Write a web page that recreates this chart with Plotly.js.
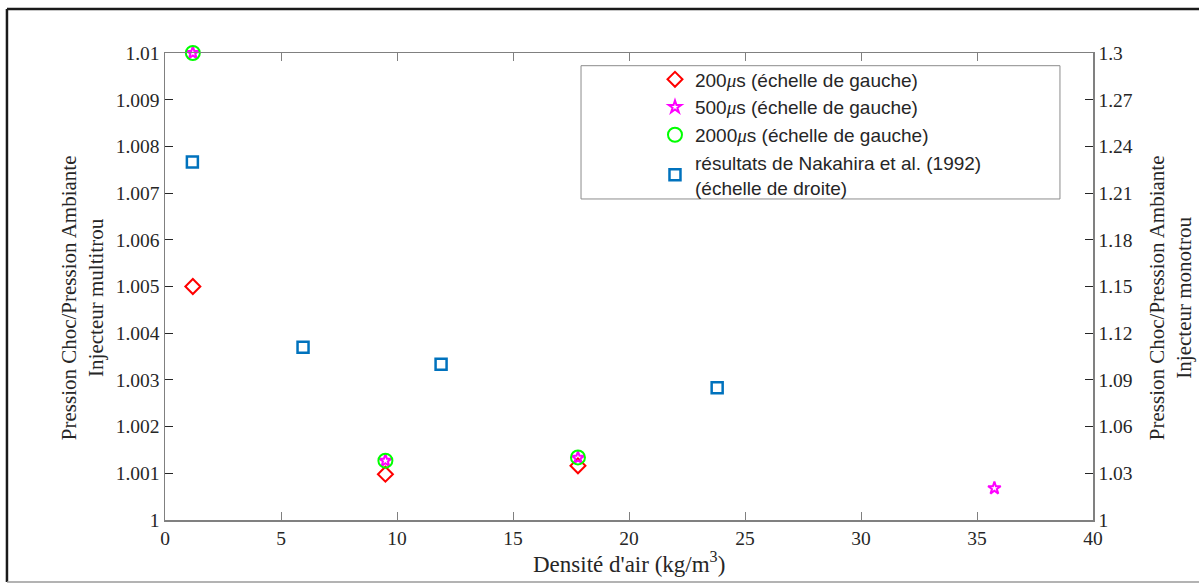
<!DOCTYPE html>
<html>
<head>
<meta charset="utf-8">
<script src="https://cdn.plot.ly/plotly-3.0.1.min.js"></script>
<style>
  html, body { margin: 0; padding: 0; background: #ffffff; }
  #chart { width: 1199px; height: 583px; }
</style>
</head>
<body>
<div id="chart"></div>
<script>
// Air density (kg/m^3) for each measurement series
const densite200 = [1.2, 9.5, 17.8];
const pression200 = [1.005, 1.00098, 1.00116];

const densite500 = [1.2, 9.5, 17.8, 35.75];
const pression500 = [1.01, 1.00127, 1.00133, 1.00068];

const densite2000 = [1.2, 9.5, 17.8];
const pression2000 = [1.01, 1.00127, 1.00134];

// Single-hole injector reference results (right-hand scale)
const densiteNakahira = [1.18, 5.95, 11.9, 23.8];
const pressionNakahira = [1.23, 1.111, 1.10, 1.085];

// Axis ticks
const xTicks = [0, 5, 10, 15, 20, 25, 30, 35, 40];
const yLeftTicks = [1, 1.001, 1.002, 1.003, 1.004, 1.005, 1.006, 1.007, 1.008, 1.009, 1.01];
const yLeftLabels = ['1', '1.001', '1.002', '1.003', '1.004', '1.005', '1.006', '1.007', '1.008', '1.009', '1.01'];
const yRightTicks = [1, 1.03, 1.06, 1.09, 1.12, 1.15, 1.18, 1.21, 1.24, 1.27, 1.3];
const yRightLabels = ['1', '1.03', '1.06', '1.09', '1.12', '1.15', '1.18', '1.21', '1.24', '1.27', '1.3'];

const mu = '<span style="font-family:\'Liberation Serif\'"><i>μ</i></span>';

const traces = [
  {
    x: densite200, y: pression200, type: 'scatter', mode: 'markers',
    name: '200' + mu + 's (échelle de gauche)', legendgroup: 'a',
    marker: { symbol: 'diamond-open', size: 11.5, color: '#ff0000', line: { width: 2, color: '#ff0000' } },
    cliponaxis: false
  },
  {
    x: densite500, y: pression500, type: 'scatter', mode: 'markers',
    name: '500' + mu + 's (échelle de gauche)', legendgroup: 'b',
    marker: { symbol: 'star-open', size: 9.5, color: '#ff00ff', line: { width: 2, color: '#ff00ff' } },
    cliponaxis: false
  },
  {
    x: densite2000, y: pression2000, type: 'scatter', mode: 'markers',
    name: '2000' + mu + 's (échelle de gauche)', legendgroup: 'c',
    marker: { symbol: 'circle-open', size: 14, color: '#00ff00', line: { width: 2, color: '#00ff00' } },
    cliponaxis: false
  },
  {
    x: densiteNakahira, y: pressionNakahira, type: 'scatter', mode: 'markers', yaxis: 'y2',
    name: 'résultats de Nakahira et al. (1992)<br>(échelle de droite)', legendgroup: 'd',
    marker: { symbol: 'square-open', size: 11, color: '#0072bd', line: { width: 2.5, color: '#0072bd' } },
    cliponaxis: false
  }
];

const axisColor = '#808080';
const textColor = '#262626';
const serif = 'Liberation Serif, Times New Roman, serif';

const layout = {
  width: 1199,
  height: 583,
  margin: { l: 165, r: 106, t: 53, b: 63 },
  paper_bgcolor: '#ffffff',
  plot_bgcolor: '#ffffff',
  showlegend: true,
  font: { family: serif, color: textColor, size: 19 },
  xaxis: {
    range: [0, 40],
    tickvals: xTicks,
    ticktext: xTicks.map(String),
    ticks: 'inside', ticklen: 8, tickwidth: 1, tickcolor: axisColor,
    showline: true, linecolor: axisColor, linewidth: 1.5,
    mirror: 'ticks',
    showgrid: false, zeroline: false,
    tickfont: { family: serif, size: 19.5, color: textColor }
  },
  yaxis: {
    range: [1, 1.01],
    tickvals: yLeftTicks,
    ticktext: yLeftLabels,
    ticks: 'inside', ticklen: 8, tickwidth: 1, tickcolor: textColor,
    showline: true, linecolor: axisColor, linewidth: 1.5,
    showgrid: false, zeroline: false,
    tickfont: { family: serif, size: 19.5, color: textColor }
  },
  yaxis2: {
    range: [1, 1.3],
    overlaying: 'y', side: 'right', anchor: 'x',
    tickvals: yRightTicks,
    ticktext: yRightLabels,
    ticks: 'inside', ticklen: 8, tickwidth: 1, tickcolor: textColor,
    showline: true, linecolor: axisColor, linewidth: 1.5,
    showgrid: false, zeroline: false,
    tickfont: { family: serif, size: 19.5, color: textColor }
  },
  legend: {
    x: 0.528, xanchor: 'left',
    y: 0.984, yanchor: 'top',
    bgcolor: 'rgba(0,0,0,0)',
    borderwidth: 0,
    tracegroupgap: 0,
    font: { family: 'Liberation Sans, Arial, sans-serif', size: 19, color: textColor }
  },
  shapes: [
    // legend frame
    { type: 'rect', xref: 'paper', yref: 'paper', x0: 0.4483, x1: 0.9644, y0: 0.6874, y1: 0.9728,
      line: { color: '#8c8c8c', width: 1 }, fillcolor: '#ffffff', layer: 'below' },
    // figure border
    { type: 'line', xref: 'paper', yref: 'paper', x0: -0.1703, x1: 1.2, y0: 1.0942, y1: 1.0942,
      line: { color: '#1a1a1a', width: 2.5 } },
    { type: 'line', xref: 'paper', yref: 'paper', x0: -0.1703, x1: -0.1703, y0: 1.0942, y1: -0.1328,
      line: { color: '#1a1a1a', width: 2.5 } },
    { type: 'line', xref: 'paper', yref: 'paper', x0: -0.1703, x1: 1.2, y0: -0.1328, y1: -0.1328,
      line: { color: '#9a9a9a', width: 1.5 } }
  ],
  annotations: [
    { text: 'Pression Choc/Pression Ambiante<br>Injecteur multitrou', xref: 'paper', yref: 'paper',
      x: -0.0894, y: 0.475, xanchor: 'center', yanchor: 'middle', textangle: -90, showarrow: false,
      font: { family: serif, size: 21, color: textColor } },
    { text: 'Pression Choc/Pression Ambiante<br>Injecteur monotrou', xref: 'paper', yref: 'paper',
      x: 1.083, y: 0.475, xanchor: 'center', yanchor: 'middle', textangle: -90, showarrow: false,
      font: { family: serif, size: 21, color: textColor } },
    { text: 'Densité d\'air (kg/m<sup>3</sup>)', xref: 'paper', yref: 'paper',
      x: 0.5, y: -0.09, xanchor: 'center', yanchor: 'middle', showarrow: false,
      font: { family: serif, size: 23, color: textColor } }
  ]
};

Plotly.newPlot('chart', traces, layout, { displayModeBar: false, staticPlot: true });
</script>
</body>
</html>
